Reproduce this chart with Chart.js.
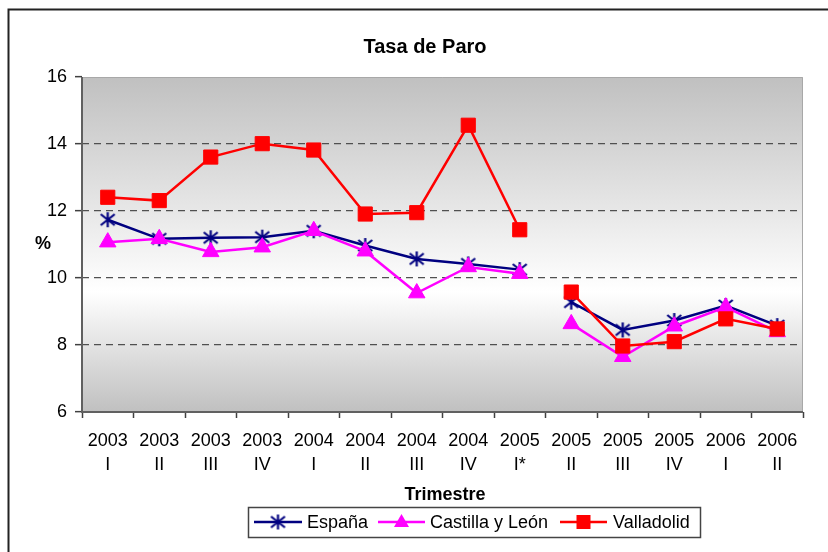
<!DOCTYPE html>
<html>
<head>
<meta charset="utf-8">
<script src="https://cdn.jsdelivr.net/npm/chart.js@4.4.1/dist/chart.umd.min.js"></script>
<style>
  body { margin: 0; background: #fff; }
  #wrap { width: 828px; height: 552px; }
</style>
</head>
<body>
<div id="wrap"><canvas id="chart" width="828" height="552"></canvas></div>
<script>
const trimestres = [
    ['2003', 'I'], ['2003', 'II'], ['2003', 'III'], ['2003', 'IV'],
    ['2004', 'I'], ['2004', 'II'], ['2004', 'III'], ['2004', 'IV'],
    ['2005', 'I*'], ['2005', 'II'], ['2005', 'III'], ['2005', 'IV'],
    ['2006', 'I'], ['2006', 'II']
];
const espana = [11.74, 11.17, 11.2, 11.22, 11.41, 10.97, 10.57, 10.42, 10.25, 9.28, 8.45, 8.73, 9.18, 8.58];
const castilla = [11.07, 11.17, 10.78, 10.92, 11.41, 10.8, 9.55, 10.33, 10.13, 8.63, 7.65, 8.56, 9.13, 8.39];
const valladolid = [12.41, 12.31, 13.61, 14.01, 13.82, 11.91, 11.95, 14.56, 11.44, 9.58, 7.97, 8.10, 8.78, 8.48];
const yTicks = [6, 8, 10, 12, 14, 16];

// the series break between 2005 I* and 2005 II
const breakAfter = 8;

const FONT = '"Liberation Sans", Arial, sans-serif';

function makeAsterisk(color) {
    const c = document.createElement('canvas');
    c.width = 17;
    c.height = 17;
    const g = c.getContext('2d');
    g.strokeStyle = color;
    g.lineWidth = 2.2;
    g.beginPath();
    g.moveTo(8.5, 1); g.lineTo(8.5, 16);
    g.moveTo(1.5, 3); g.lineTo(15.5, 14);
    g.moveTo(15.5, 3); g.lineTo(1.5, 14);
    g.stroke();
    return c;
}
const asterisk = makeAsterisk('#000080');

const segmentGap = {
    borderColor: ctx => ctx.p0DataIndex === breakAfter ? 'rgba(0,0,0,0)' : undefined
};

const decor = {
    id: 'decor',
    beforeDraw(chart) {
        const ctx = chart.ctx;
        const a = chart.chartArea;
        ctx.save();
        ctx.fillStyle = '#fff';
        ctx.fillRect(0, 0, chart.width, chart.height);
        const grad = ctx.createLinearGradient(0, a.top, 0, a.bottom);
        grad.addColorStop(0, '#c0c0c0');
        grad.addColorStop(0.64, '#ffffff');
        grad.addColorStop(1, '#c0c0c0');
        ctx.fillStyle = grad;
        ctx.fillRect(a.left, a.top, a.right - a.left, a.bottom - a.top);

        // outer frame (top and left visible)
        ctx.strokeStyle = '#222';
        ctx.lineWidth = 2;
        ctx.beginPath();
        ctx.moveTo(8.5, chart.height);
        ctx.lineTo(8.5, 9.5);
        ctx.lineTo(chart.width, 9.5);
        ctx.stroke();
        ctx.restore();
    },
    beforeDatasetsDraw(chart) {
        const ctx = chart.ctx;
        const a = chart.chartArea;
        ctx.save();
        ctx.strokeStyle = '#a8a8a8';
        ctx.lineWidth = 1;
        ctx.beginPath();
        ctx.moveTo(a.left, a.top + 0.5);
        ctx.lineTo(a.right - 0.5, a.top + 0.5);
        ctx.lineTo(a.right - 0.5, a.bottom);
        ctx.stroke();
        ctx.strokeStyle = '#606060';
        ctx.lineWidth = 2;
        ctx.beginPath();
        ctx.moveTo(a.left, a.top);
        ctx.lineTo(a.left, a.bottom);
        ctx.lineTo(a.right, a.bottom);
        ctx.stroke();
        ctx.restore();
    },
    afterDraw(chart) {
        const ctx = chart.ctx;
        ctx.save();
        ctx.fillStyle = '#000';
        ctx.textAlign = 'center';
        ctx.textBaseline = 'middle';
        ctx.font = 'bold 20px ' + FONT;
        ctx.fillText('Tasa de Paro', 425, 47);
        ctx.font = 'bold 18px ' + FONT;
        ctx.fillText('%', 43, 244);
        ctx.fillText('Trimestre', 445, 495);

        // legend
        ctx.strokeStyle = '#444';
        ctx.lineWidth = 1.5;
        ctx.strokeRect(248.5, 507.5, 452, 30);
        const ly = 522;
        ctx.lineWidth = 2.5;
        ctx.strokeStyle = '#000080';
        ctx.beginPath(); ctx.moveTo(254, ly); ctx.lineTo(302, ly); ctx.stroke();
        ctx.drawImage(asterisk, 278 - 8.5, ly - 8.5);

        ctx.strokeStyle = '#ff00ff';
        ctx.beginPath(); ctx.moveTo(378, ly); ctx.lineTo(425, ly); ctx.stroke();
        ctx.fillStyle = '#ff00ff';
        ctx.beginPath();
        ctx.moveTo(401.5, ly - 8);
        ctx.lineTo(409, ly + 5);
        ctx.lineTo(394, ly + 5);
        ctx.closePath();
        ctx.fill();

        ctx.strokeStyle = '#ff0000';
        ctx.beginPath(); ctx.moveTo(560, ly); ctx.lineTo(607, ly); ctx.stroke();
        ctx.fillStyle = '#ff0000';
        ctx.fillRect(583.5 - 7, ly - 7, 14, 14);

        ctx.fillStyle = '#000';
        ctx.textAlign = 'left';
        ctx.font = '18px ' + FONT;
        ctx.fillText('España', 307, ly + 1);
        ctx.fillText('Castilla y León', 430, ly + 1);
        ctx.fillText('Valladolid', 613, ly + 1);
        ctx.restore();
    }
};

const ctx = document.getElementById('chart').getContext('2d');
const chart = new Chart(ctx, {
    type: 'line',
    data: {
        labels: trimestres,
        datasets: [{
            label: 'España',
            data: espana,
            borderColor: '#000080',
            borderWidth: 2.5,
            pointStyle: asterisk,
            pointRadius: 8,
            segment: segmentGap,
            order: 2
        }, {
            label: 'Castilla y León',
            data: castilla,
            borderColor: '#ff00ff',
            backgroundColor: '#ff00ff',
            borderWidth: 2.5,
            pointStyle: 'triangle',
            pointRadius: 9.5,
            pointBorderWidth: 1,
            pointBorderColor: '#ff00ff',
            pointBackgroundColor: '#ff00ff',
            segment: segmentGap,
            order: 1
        }, {
            label: 'Valladolid',
            data: valladolid,
            borderColor: '#ff0000',
            backgroundColor: '#ff0000',
            borderWidth: 2.5,
            pointStyle: 'rect',
            pointRadius: 10,
            pointBorderWidth: 1,
            pointBorderColor: '#ff0000',
            pointBackgroundColor: '#ff0000',
            segment: segmentGap,
            order: 0
        }]
    },
    options: {
        responsive: false,
        animation: false,
        events: [],
        layout: { padding: { left: 0, top: 77, right: 25, bottom: 0 } },
        plugins: {
            legend: { display: false },
            title: { display: false },
            tooltip: { enabled: false }
        },
        scales: {
            x: {
                offset: true,
                afterFit(scale) { scale.height = 140; },
                grid: {
                    offset: true,
                    drawOnChartArea: false,
                    tickLength: 6,
                    tickColor: '#404040',
                    tickWidth: 1.5
                },
                border: { display: false },
                ticks: {
                    autoSkip: false,
                    maxRotation: 0,
                    padding: 11,
                    color: '#000',
                    font: { family: FONT, size: 18, lineHeight: 1.33 }
                }
            },
            y: {
                min: 6,
                max: 16,
                afterFit(scale) { scale.width = 82; },
                afterBuildTicks(scale) { scale.ticks = yTicks.map(v => ({ value: v })); },
                grid: {
                    color: c => (c.tick && (c.tick.value === 6 || c.tick.value === 16)) ? 'rgba(0,0,0,0)' : '#505050',
                    lineWidth: 1.3,
                    tickLength: 7,
                    tickColor: '#404040',
                    tickWidth: 1.5
                },
                border: { display: false, dash: [7, 5] },
                ticks: {
                    padding: 8,
                    color: '#000',
                    font: { family: FONT, size: 18 }
                }
            }
        }
    },
    plugins: [decor]
});
</script>
</body>
</html>
